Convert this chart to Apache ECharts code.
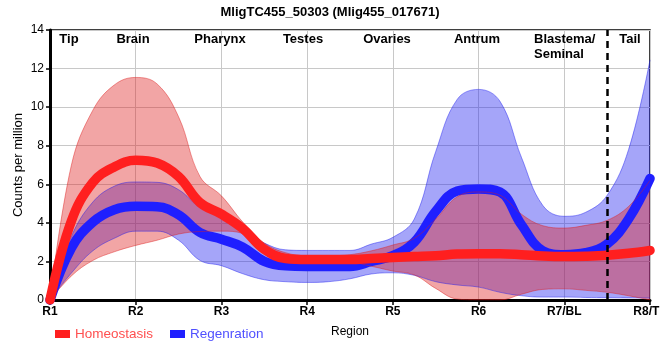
<!DOCTYPE html>
<html>
<head>
<meta charset="utf-8">
<script src="https://cdn.jsdelivr.net/npm/echarts@6/dist/echarts.min.js"></script>
<style>html,body{margin:0;padding:0;background:#fff}#c{width:660px;height:360px}</style>
</head>
<body>
<div id="c"></div>
<script>
// Data: sampled every quarter of a region step (R1 = 0 ... R8/TL = 7)
const regionTicks = ['R1','R2','R3','R4','R5','R6','R7/BL','R8/TL'];
const regionNames = ['Tip','Brain','Pharynx','Testes','Ovaries','Antrum','Blastema/\nSeminal','Tail'];
const xPos = ['0','0.25','0.5','0.75','1','1.25','1.5','1.75','2','2.25','2.5','2.75','3','3.25','3.5','3.75','4','4.25','4.5','4.75','5','5.25','5.5','5.75','6','6.25','6.5','6.75','7'];
const homeoMean = [0,4.1,6.1,6.9,7.25,7.1,6.4,5.05,4.45,3.7,2.62,2.15,2.1,2.1,2.1,2.15,2.2,2.25,2.3,2.38,2.4,2.4,2.35,2.28,2.25,2.27,2.32,2.42,2.57];
const homeoHi   = [0,7.0,9.84,11.15,11.54,11.2,9.5,6.4,5.4,4.04,2.95,2.45,2.3,2.3,2.35,2.55,2.85,3.2,4.2,5.35,5.6,5.43,4.45,3.85,3.73,3.87,4.13,4.85,6.2];
const homeoLo   = [0,1.25,2.05,2.5,2.83,3.1,3.42,3.55,3.57,3.45,2.4,2.0,1.95,1.95,1.95,1.75,1.5,1.3,0.6,0.05,0,0,0.3,0.55,0.58,0.5,0.4,0.22,0];
const regenMean = [0,2.7,4.04,4.68,4.86,4.84,4.42,3.5,3.15,2.74,2.0,1.77,1.74,1.74,1.74,2.0,2.3,3.0,4.6,5.65,5.76,5.6,3.9,2.55,2.35,2.45,2.9,4.2,6.3];
const regenHi   = [0,3.3,5.08,5.9,6.12,6.1,5.72,4.8,4.38,3.6,2.95,2.6,2.57,2.57,2.57,2.9,3.25,4.2,7.7,10.4,10.92,10.3,7.4,4.9,4.34,4.55,5.43,7.8,12.45];
const regenLo   = [0,1.4,2.55,3.2,3.57,3.57,3.1,2.05,1.78,1.36,1.05,0.95,0.91,0.95,1.1,1.35,1.41,1.28,0.95,0.78,0.67,0.4,0.22,0.15,0.15,0.13,0.12,0.11,0.1];
const dividerAt = '6.5';

const diffs = (hi, lo) => hi.map((h, i) => +(h - lo[i]).toFixed(3));
const STEP = 4; // samples per region step

const RED = '#ff1f1f', BLUE = '#1f1fff';
const RED_BAND = 'rgba(222,30,30,0.4)', BLUE_BAND = 'rgba(30,30,240,0.4)';
const SM = 0.4;
const FONT = '"Liberation Sans", Arial, sans-serif';

const chart = echarts.init(document.getElementById('c'), null, {renderer: 'canvas'});
const txt = (name, x, y, align) => ({
  type: 'text', x: x, y: y, z: 100,
  style: {text: name, fill: '#000', font: 'bold 13px ' + FONT, align: align || 'center', verticalAlign: 'top', lineHeight: 15}
});
const onStep = (i) => i % STEP === 0;

chart.setOption({
  animation: false,
  backgroundColor: '#fff',
  title: {
    text: 'MligTC455_50303 (Mlig455_017671)', left: 'center', top: 1,
    textStyle: {fontSize: 13, fontWeight: 'bold', color: '#000', fontFamily: FONT}
  },
  grid: {left: 50, right: 10, top: 30, bottom: 60, containLabel: false, outerBoundsMode: 'none',
    show: true, borderColor: '#000', borderWidth: 1.5, backgroundColor: 'transparent'},
  legend: {
    left: 50, top: 322, itemWidth: 15, itemHeight: 8, itemGap: 17, icon: 'rect',
    textStyle: {fontSize: 13.5, fontFamily: FONT},
    data: [
      {name: 'Homeostasis', textStyle: {color: '#ff4f4f'}},
      {name: 'Regenration', textStyle: {color: '#5050ff'}}
    ]
  },
  xAxis: {
    type: 'category', data: xPos, boundaryGap: false,
    name: 'Region', nameLocation: 'middle', nameGap: 26, nameMoveOverlap: false,
    nameTextStyle: {color: '#000', fontSize: 12, fontFamily: FONT},
    axisLine: {show: true, onZero: false, lineStyle: {color: '#000', width: 3}},
    axisTick: {show: true, length: 5, interval: onStep, lineStyle: {color: '#000', width: 1.5}},
    axisLabel: {color: '#000', fontSize: 12, fontWeight: 'bold', margin: 6, fontFamily: FONT,
      interval: onStep, formatter: (v, i) => regionTicks[i / STEP] || ''},
    splitLine: {show: true, interval: onStep, lineStyle: {color: '#c8c8c8', width: 1}}
  },
  yAxis: {
    type: 'value', min: 0, max: 14, interval: 2,
    name: 'Counts per million', nameLocation: 'middle', nameGap: 25, nameMoveOverlap: false,
    nameTextStyle: {color: '#000', fontSize: 13, fontFamily: FONT},
    axisLine: {show: true, lineStyle: {color: '#000', width: 3}},
    axisTick: {show: true, length: 4, lineStyle: {color: '#000', width: 1.5}},
    axisLabel: {color: '#000', fontSize: 12, margin: 6, fontFamily: FONT},
    splitLine: {show: true, lineStyle: {color: '#c8c8c8', width: 1}}
  },
  graphic: [
    txt(regionNames[0], 69, 32),
    txt(regionNames[1], 133, 32),
    txt(regionNames[2], 220, 32),
    txt(regionNames[3], 303, 32),
    txt(regionNames[4], 387, 32),
    txt(regionNames[5], 477, 32),
    txt(regionNames[6], 534, 32, 'left'),
    txt(regionNames[7], 630, 32)
  ],
  series: [
    {name: 'regenBase', type: 'line', stack: 'rb', data: regenLo, smooth: SM, symbol: 'none',
      lineStyle: {color: 'rgba(30,30,240,0.45)', width: 1}, silent: true},
    {name: 'regenBand', type: 'line', stack: 'rb', data: diffs(regenHi, regenLo), smooth: SM, symbol: 'none',
      lineStyle: {color: 'rgba(30,30,240,0.45)', width: 1}, areaStyle: {color: BLUE_BAND, opacity: 1}, silent: true},
    {name: 'Regenration', type: 'line', data: regenMean, smooth: SM, symbol: 'none',
      itemStyle: {color: BLUE}, lineStyle: {color: BLUE, width: 9.5, cap: 'round', join: 'round'}},
    {name: 'homeoBase', type: 'line', stack: 'hb', data: homeoLo, smooth: SM, symbol: 'none',
      lineStyle: {color: 'rgba(222,30,30,0.45)', width: 1}, silent: true},
    {name: 'homeoBand', type: 'line', stack: 'hb', data: diffs(homeoHi, homeoLo), smooth: SM, symbol: 'none',
      lineStyle: {color: 'rgba(222,30,30,0.45)', width: 1}, areaStyle: {color: RED_BAND, opacity: 1}, silent: true},
    {name: 'Homeostasis', type: 'line', data: homeoMean, smooth: SM, symbol: 'none',
      itemStyle: {color: RED}, lineStyle: {color: RED, width: 9.5, cap: 'round', join: 'round'},
      markLine: {silent: true, symbol: 'none', label: {show: false},
        lineStyle: {color: '#000', width: 2.5, type: [7, 5]},
        data: [{xAxis: dividerAt}]}}
  ]
});
</script>
</body>
</html>
